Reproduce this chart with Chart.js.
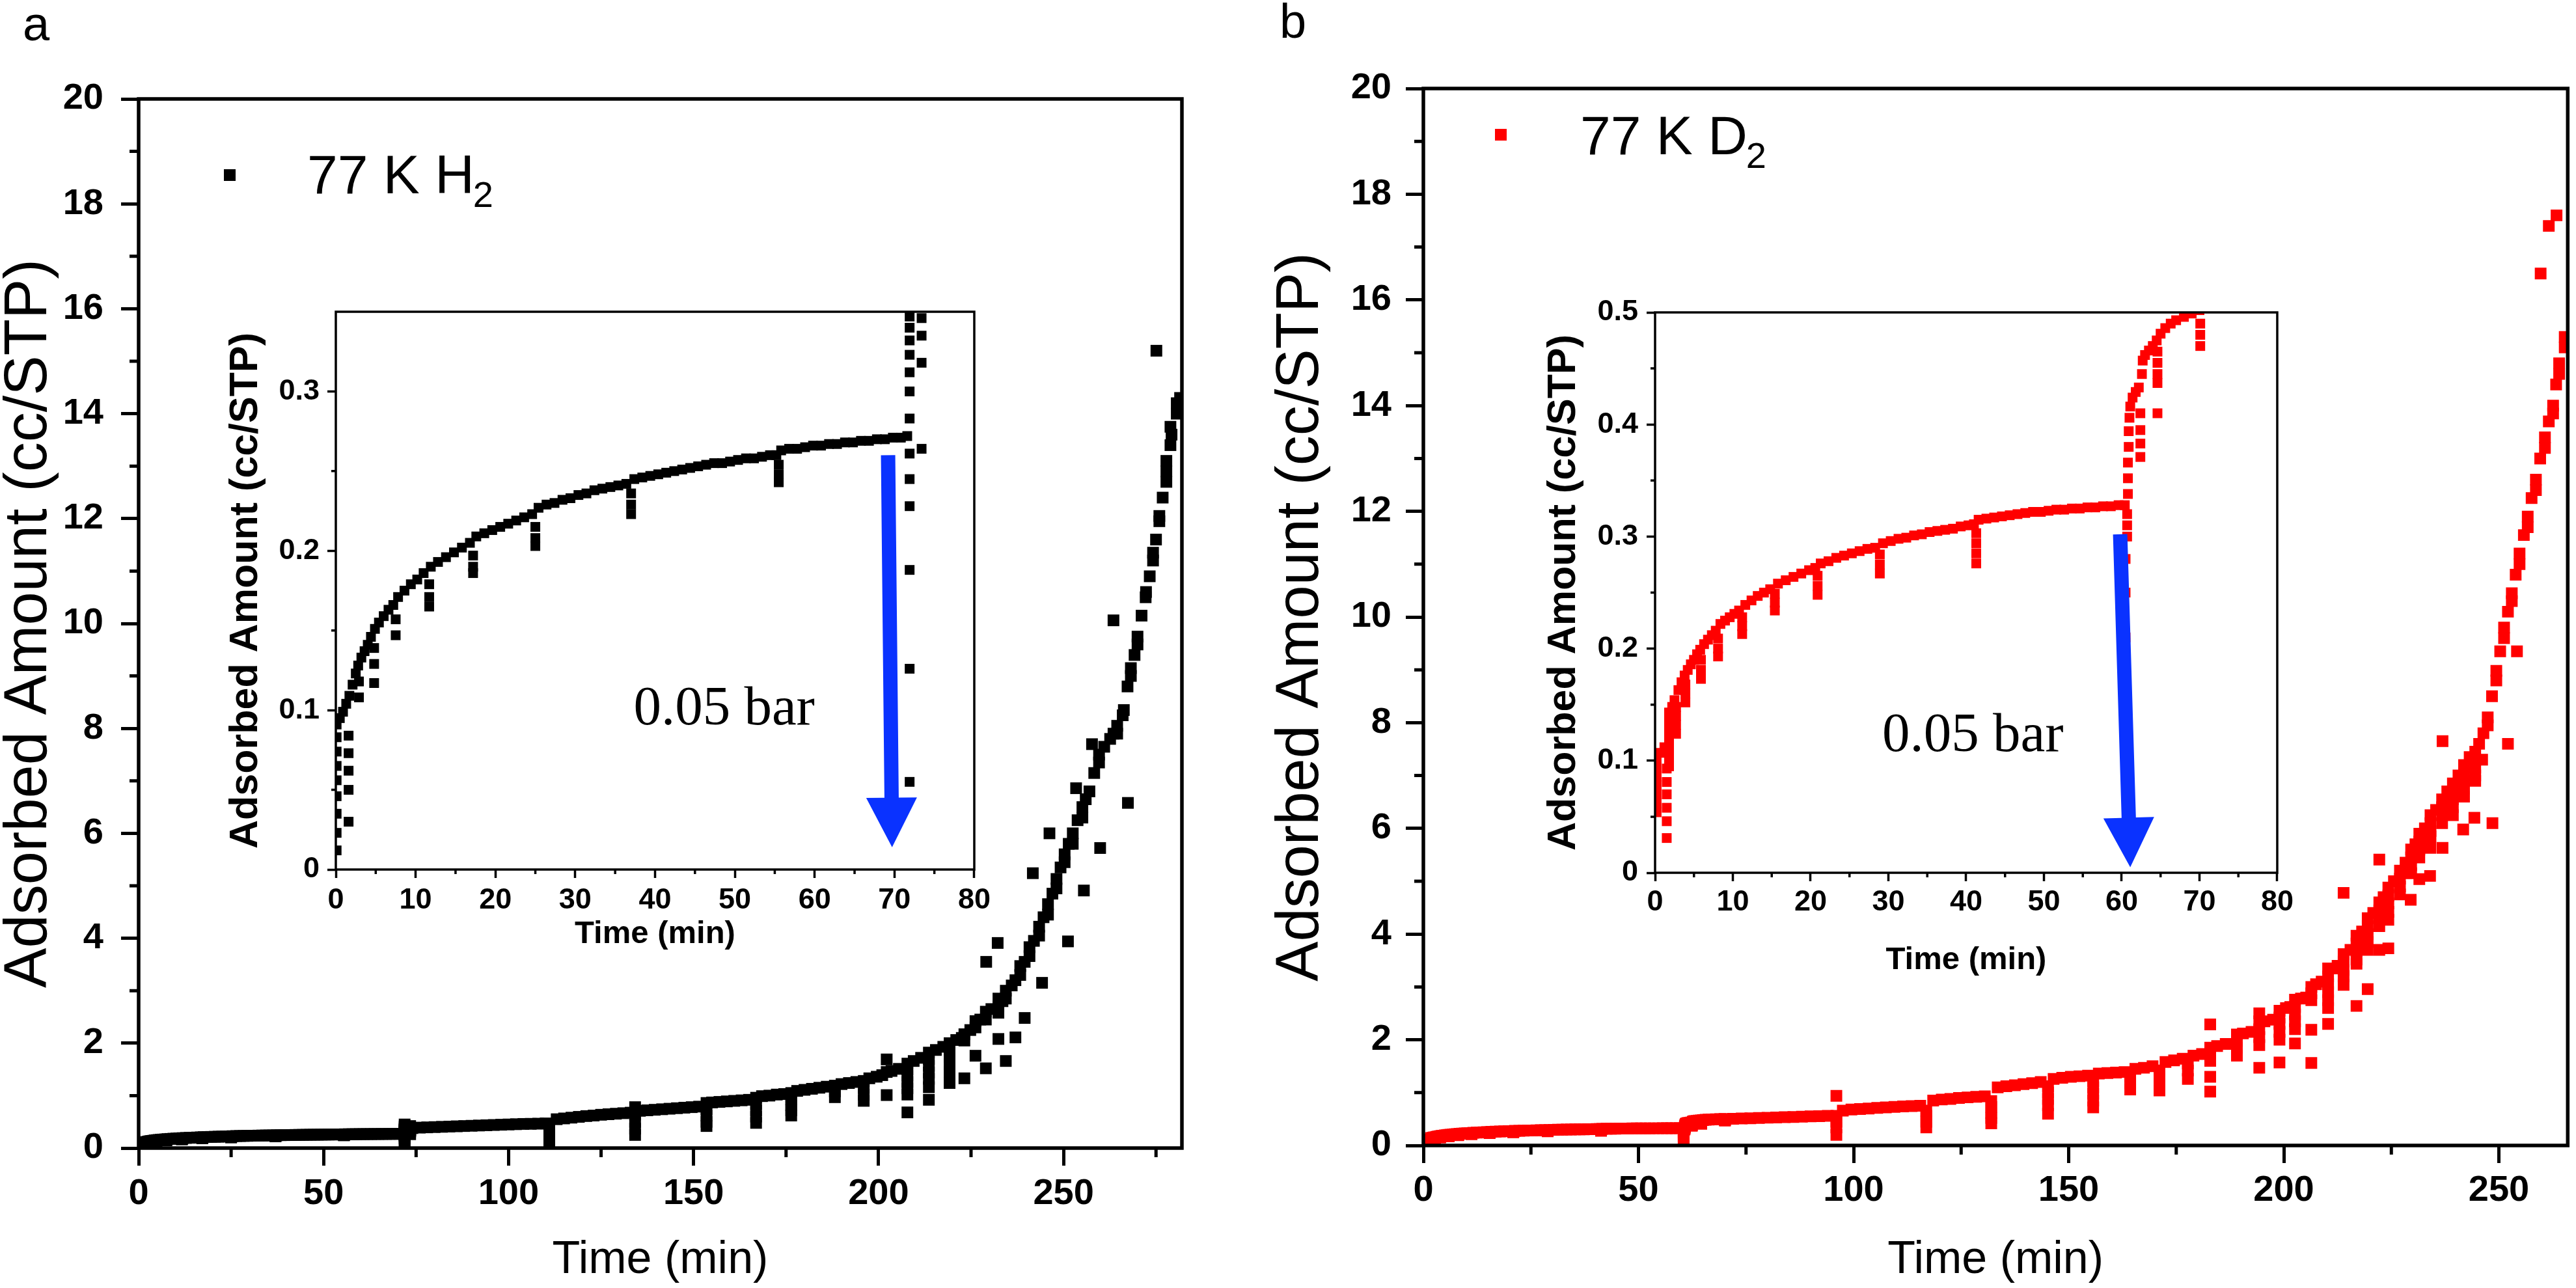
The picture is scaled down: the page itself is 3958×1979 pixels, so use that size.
<!DOCTYPE html>
<html>
<head>
<meta charset="utf-8">
<title>Adsorbed amount vs time, 77 K H2 and D2</title>
<script src="https://cdn.jsdelivr.net/npm/chart.js@4.4.1/dist/chart.umd.min.js"></script>
<style>
  html, body { margin: 0; padding: 0; background: #ffffff; }
  #page { position: relative; width: 3958px; height: 1979px; overflow: hidden; background: #ffffff; }
  #page canvas { position: absolute; }
</style>
</head>
<body>
<div id="page">
  <canvas id="mainA" width="1830" height="1979" style="left:0px;top:0px;width:1830px;height:1979px"></canvas>
  <canvas id="mainB" width="2018" height="1979" style="left:1940px;top:0px;width:2018px;height:1979px"></canvas>
  <canvas id="insetA" width="1200" height="1025" style="left:330px;top:440px;width:1200px;height:1025px"></canvas>
  <canvas id="insetB" width="1200" height="1080" style="left:2330px;top:440px;width:1200px;height:1080px"></canvas>
</div>
<script>
// ---- data: [time (min), adsorbed amount (cc/STP)] ----

// 77 K H2, first 74 min (this is what the inset of panel a shows)
const earlyA = [
  [0.1,0.012],[0.1,0.023],[0.1,0.035],[0.1,0.046],[0.1,0.056],[0.1,0.065],[0.1,0.074],[0.1,0.083],[0.1,0.091],
  [0.5,0.095],[0.9,0.099],[1.3,0.104],
  [1.6,0.03],[1.6,0.05],[1.6,0.062],[1.6,0.073],[1.6,0.084],
  [1.7,0.109],[2.1,0.116],[2.5,0.123],[2.8,0.128],
  [2.9,0.118],[2.9,0.108],
  [3.2,0.133],[3.6,0.137],[4.0,0.141],[4.4,0.146],
  [4.8,0.139],[4.8,0.129],[4.8,0.117],
  [4.9,0.151],[5.4,0.155],[6.0,0.159],[6.6,0.163],[7.2,0.166],
  [7.5,0.157],[7.5,0.147],
  [7.8,0.171],[8.6,0.175],[9.4,0.179],[10.2,0.182],[11.0,0.186],
  [11.7,0.179],[11.7,0.171],[11.7,0.165],
  [11.9,0.19],[12.8,0.193],[13.8,0.196],[14.8,0.199],[15.8,0.202],[16.8,0.205],
  [17.2,0.197],[17.2,0.19],[17.2,0.186],
  [17.6,0.209],[18.6,0.211],[19.6,0.213],[20.6,0.215],[21.6,0.217],[22.6,0.219],[23.6,0.221],[24.6,0.223],
  [25.0,0.215],[25.0,0.208],[25.0,0.203],
  [25.4,0.227],[26.4,0.229],[27.4,0.23],[28.4,0.232],[29.4,0.233],[30.4,0.235],[31.4,0.236],[32.4,0.238],
  [33.4,0.239],[34.4,0.24],[35.4,0.241],[36.4,0.242],
  [37.0,0.236],[37.0,0.229],[37.0,0.223],
  [37.4,0.245],[38.4,0.246],[39.4,0.247],[40.4,0.248],[41.4,0.249],[42.4,0.25],[43.4,0.251],[44.4,0.252],
  [45.4,0.253],[46.4,0.254],[47.4,0.255],[48.4,0.255],[49.4,0.256],[50.4,0.257],[51.4,0.258],[52.4,0.258],
  [53.4,0.259],[54.4,0.26],[55.2,0.26],
  [55.5,0.254],[55.5,0.248],[55.5,0.243],
  [55.8,0.263],[56.8,0.264],[57.8,0.264],[58.8,0.265],[59.8,0.266],[60.8,0.266],[61.8,0.267],[62.8,0.267],
  [63.8,0.268],[64.8,0.268],[65.8,0.269],[66.8,0.269],[67.8,0.27],[68.8,0.27],[69.8,0.271],[70.8,0.271],[71.6,0.272],
  [71.9,0.055],[71.9,0.126],[71.9,0.188],[71.9,0.228],[71.9,0.245],[71.9,0.261],[71.9,0.283],[71.9,0.3],
  [71.9,0.312],[71.9,0.323],[71.9,0.332],[71.9,0.34],[71.9,0.347],[71.9,0.36],[71.9,0.38],[71.9,0.41],[71.9,0.45],
  [73.4,0.264],[73.4,0.318],[73.4,0.335],[73.4,0.346],[73.4,0.37],[73.4,0.42]
];

// 77 K H2, rest of the run
const lateA = [
  [74,0.38],[76,0.39],[78,0.395],[80,0.4],[82,0.405],[84,0.41],[86,0.415],[88,0.42],[90,0.425],[92,0.43],
  [94,0.435],[96,0.44],[98,0.445],[100,0.45],[102,0.455],[104,0.46],[106,0.462],[108,0.465],[110,0.47],
  [111,0.38],[111,0.27],[111,0.16],[111,0.06],
  [113,0.55],[115,0.565],[117,0.58],[119,0.595],[121,0.61],[123,0.62],[125,0.635],[127,0.645],[129,0.655],[131,0.665],[133,0.675],
  [134.2,0.78],[134.2,0.64],[134.2,0.5],[134.2,0.37],[134.2,0.25],
  [135.5,0.71],[137.5,0.72],[139.5,0.73],[141.5,0.74],[143.5,0.75],[145.5,0.76],[147.5,0.77],[149.5,0.78],[151.5,0.79],
  [153.5,0.86],[153.5,0.74],[153.5,0.62],[153.5,0.5],[153.5,0.42],
  [155,0.87],[157,0.88],[159,0.89],[161,0.9],[163,0.91],[165,0.92],
  [166.9,0.96],[166.9,0.84],[166.9,0.72],[166.9,0.6],[166.9,0.48],
  [168.5,0.99],[170.5,1.0],[172.5,1.02],[174.5,1.03],
  [176.4,1.05],[176.4,0.93],[176.4,0.82],[176.4,0.72],[176.4,0.62],
  [178,1.09],[180,1.11],[182,1.13],[184,1.15],[186,1.17],
  [188.2,1.19],[188.2,1.08],[188.2,0.97],
  [190,1.22],[192,1.24],[194,1.26],
  [196,1.28],[196,1.15],[196,1.02],[196,0.9],
  [197.5,1.33],[199.5,1.36],[201,1.39],[202.2,1.45],[203.5,1.47],[205.5,1.51],
  [207.8,1.61],[207.8,1.5],[207.8,1.38],[207.8,1.26],[207.8,1.14],[207.8,1.02],
  [209.5,1.66],[211.5,1.72],
  [213.6,1.82],[213.6,1.7],[213.6,1.57],[213.6,1.44],[213.6,1.32],[213.6,1.16],
  [215.5,1.87],[217.5,1.93],
  [219.2,2.0],[219.2,1.87],[219.2,1.74],[219.2,1.6],[219.2,1.45],
  [221,2.06],[222.5,2.1],[223.2,2.17],[223.2,2.05],[224.8,2.25],[226.2,2.42],[226.2,2.3],[227.5,2.45],
  [229,2.6],[229,2.45],[230.5,2.65],[232.4,2.85],[232.4,2.7],[232.4,2.58],[233.5,2.8],[234.4,3.0],[234.4,2.85],
  [236,3.1],[237,3.2],[238.3,3.47],[238.3,3.3],[239.5,3.55],[240.8,3.83],[240.8,3.66],[242,3.95],
  [243.4,4.22],[243.4,4.05],[244.6,4.4],[245.8,4.65],[245.8,4.45],[247,4.85],[248.1,5.13],[248.1,4.95],
  [249.2,5.35],[250.3,5.6],[250.3,5.45],[251.4,5.8],[252.5,6.0],[252.5,5.8],[253.8,6.25],[255.1,6.5],[255.1,6.3],
  [256,6.65],[257,6.8],[258.3,7.15],[259.6,7.5],[259.6,7.35],[261,7.65],[262.6,7.8],[263.5,7.9],[264.5,7.9],[264.5,8.05],
  [266,8.25],[266.3,8.35],[267.3,8.8],[268.2,9.0],[268.2,9.15],[269.2,9.4],[270,9.75],[270,9.6],[271.1,10.15],
  [272.2,10.5],[272.3,10.6],[273.3,10.9],[274.2,11.2],[274.2,11.35],[275,11.6],[275.9,11.95],[275.9,12.05],
  [276.8,12.4],[277.8,12.7],[277.8,12.9],[277.8,13.1],[278.9,13.4],[279.2,13.6],[278.9,13.75],[280.6,14.0],[280.6,14.2],[281.5,14.3]
];

// 77 K H2, stray points away from the main band
const strayA = [
  [202.2,1.69],[202.2,1.01],[207.8,0.68],[213.6,0.92],[219.2,1.24],[223.2,1.33],[226.2,1.76],[229,1.52],
  [232.4,2.08],[234.4,1.66],[237,2.11],[239.5,2.48],[244.2,3.15],[232.2,3.91],[229.1,3.55],[241.7,5.24],
  [246.2,6.0],[251.2,3.94],[253.4,6.86],[255.5,4.91],[257.7,7.7],[259.9,5.72],[263.5,10.06],[267.4,6.58],[275.1,15.2]
];

// 77 K D2, first 70 min (inset of panel b)
const earlyB = [
  [0.2,0.054],[0.2,0.062],[0.2,0.07],[0.2,0.078],[0.2,0.086],[0.2,0.094],[0.2,0.102],
  [0.7,0.107],[1.2,0.112],
  [1.5,0.031],[1.5,0.046],[1.5,0.058],[1.5,0.07],[1.5,0.081],[1.5,0.093],
  [1.8,0.143],[1.8,0.135],[1.8,0.127],[1.8,0.119],[1.8,0.111],[1.8,0.103],[1.8,0.095],
  [2.2,0.148],[2.5,0.154],
  [2.7,0.148],[2.7,0.14],[2.7,0.132],[2.7,0.124],
  [3.0,0.163],[3.4,0.17],[3.8,0.176],
  [3.9,0.168],[3.9,0.16],[3.9,0.152],
  [4.2,0.181],[4.6,0.186],[5.0,0.19],[5.4,0.195],[5.8,0.199],
  [5.9,0.19],[5.9,0.181],[5.9,0.173],
  [6.3,0.204],[6.8,0.208],[7.3,0.212],[7.8,0.216],
  [8.1,0.209],[8.1,0.2],[8.1,0.193],
  [8.4,0.222],[9.0,0.225],[9.6,0.228],[10.2,0.231],[10.8,0.234],
  [11.2,0.228],[11.2,0.22],[11.2,0.213],
  [11.6,0.239],[12.4,0.243],[13.2,0.247],[14.0,0.25],[14.8,0.253],
  [15.4,0.249],[15.4,0.241],[15.4,0.234],
  [15.8,0.258],[16.8,0.261],[17.8,0.264],[18.8,0.267],[19.8,0.27],[20.6,0.272],
  [20.9,0.265],[20.9,0.256],[20.9,0.248],
  [21.3,0.276],[22.3,0.278],[23.3,0.281],[24.3,0.283],[25.3,0.285],[26.3,0.287],[27.3,0.289],[28.3,0.29],
  [28.9,0.284],[28.9,0.275],[28.9,0.267],
  [29.3,0.294],[30.3,0.296],[31.3,0.298],[32.3,0.299],[33.3,0.301],[34.3,0.302],[35.3,0.304],[36.3,0.305],
  [37.3,0.306],[38.3,0.307],[39.3,0.309],[40.3,0.31],[41.0,0.311],
  [41.3,0.303],[41.3,0.294],[41.3,0.285],[41.3,0.276],
  [41.6,0.315],[42.6,0.316],[43.6,0.317],[44.6,0.318],[45.6,0.319],[46.6,0.32],[47.6,0.321],[48.6,0.322],
  [49.6,0.322],[50.6,0.323],[51.6,0.324],[52.6,0.324],[53.6,0.325],[54.6,0.325],[55.6,0.326],[56.6,0.326],
  [57.6,0.327],[58.6,0.327],[59.6,0.328],[60.4,0.328],
  [60.5,0.09],[60.5,0.13],[60.5,0.17],[60.5,0.21],[60.5,0.25],[60.5,0.28],
  [60.7,0.3],[60.7,0.31],[60.7,0.32],[60.8,0.338],[60.8,0.352],[60.8,0.366],[60.9,0.38],[60.9,0.394],[61.0,0.406],[61.1,0.416],
  [61.4,0.424],[61.8,0.429],[62.2,0.433],
  [62.4,0.41],[62.4,0.395],[62.4,0.383],[62.4,0.371],
  [62.6,0.445],[62.7,0.457],[63.0,0.462],[63.5,0.466],[64.0,0.47],[64.5,0.475],
  [64.6,0.465],[64.6,0.455],[64.6,0.445],[64.6,0.437],[64.6,0.41],
  [65.0,0.481],[65.6,0.486],[66.3,0.49],[67.0,0.493],[68.0,0.496],[69.0,0.499],[70.0,0.502],
  [70.1,0.49],[70.1,0.48],[70.1,0.47]
];

// 77 K D2, rest of the run
const lateB = [
  [72,0.505],[74,0.51],[76,0.515],[78,0.52],[80,0.525],[82,0.53],[84,0.535],[86,0.54],[88,0.545],[90,0.55],[92,0.555],[94,0.56],
  [96,0.56],[96,0.45],[96,0.34],[96,0.2],
  [97.5,0.66],[99.5,0.68],[101.5,0.69],[103.5,0.7],[105.5,0.71],[107.5,0.72],[109.5,0.73],[111.5,0.74],[113.5,0.745],[115.5,0.75],
  [116.9,0.66],[116.9,0.56],[116.9,0.45],[116.9,0.34],
  [118.5,0.85],[120.5,0.87],[122.5,0.88],[124.5,0.9],[126.5,0.91],[128.5,0.92],[130.5,0.93],
  [132,0.84],[132,0.73],[132,0.62],[132,0.52],[132,0.42],
  [133.5,1.1],[135.5,1.12],[137.5,1.14],[139.5,1.16],[141.5,1.18],[143.5,1.2],
  [145.2,1.12],[145.2,1.0],[145.2,0.88],[145.2,0.76],[145.2,0.6],
  [146.5,1.26],[148.5,1.28],[150.5,1.3],[152.5,1.31],[154.5,1.32],
  [155.7,1.22],[155.7,1.1],[155.7,0.98],[155.7,0.85],[155.7,0.72],
  [157,1.36],[159,1.37],[161,1.38],[163,1.39],
  [164.3,1.3],[164.3,1.18],[164.3,1.06],
  [165.5,1.45],[167.5,1.47],[169.5,1.5],
  [171.1,1.42],[171.1,1.3],[171.1,1.17],[171.1,1.04],
  [172.5,1.58],[174.5,1.61],[176.5,1.64],
  [177.7,1.55],[177.7,1.42],[177.7,1.26],
  [179,1.7],[181,1.73],
  [182.9,1.85],[182.9,1.75],[182.9,1.6],
  [184.5,1.88],[186.5,1.92],
  [189.1,2.1],[189.1,1.98],[189.1,1.85],[189.1,1.7],
  [190.5,2.12],[192.5,2.15],
  [194.3,2.5],[194.3,2.35],[194.3,2.2],[194.3,2.05],[194.3,1.9],
  [195.5,2.35],[197.5,2.38],
  [199,2.55],[199,2.42],[199,2.3],[199,2.15],[199,2.0],
  [200.5,2.6],[201.5,2.62],
  [202.6,2.76],[202.6,2.62],[202.6,2.48],[202.6,2.35],[202.6,2.2],
  [204,2.78],[205.2,2.8],
  [206.4,3.0],[206.4,2.88],[206.4,2.75],
  [207.5,3.05],[208.8,3.1],
  [210.3,3.35],[210.3,3.2],[210.3,3.05],[210.3,2.9],[210.3,2.75],[210.3,2.6],
  [211.5,3.35],[212.5,3.4],
  [213.9,3.62],[213.9,3.48],[213.9,3.32],[213.9,3.2],
  [215.5,3.7],
  [216.9,3.97],[216.9,3.82],[216.9,3.67],[216.9,3.52],
  [218.2,4.05],
  [219.5,4.3],[219.5,4.15],[219.5,4.0],[219.5,3.85],
  [220.8,4.4],
  [222.2,4.6],[222.2,4.45],[222.2,4.3],[222.2,4.15],
  [223.2,4.7],
  [224.3,4.88],[224.3,4.73],[224.3,4.58],[224.3,4.42],
  [225.6,5.0],
  [227,5.2],[227,5.05],[227,4.9],[227,4.75],
  [228.3,5.35],
  [229.6,5.6],[229.6,5.45],[229.6,5.3],[229.6,5.15],
  [230.6,5.7],
  [231.5,5.9],[231.5,5.75],[231.5,5.6],[231.5,5.45],
  [232.8,6.0],
  [234.1,6.25],[234.1,6.1],[234.1,5.95],[234.1,5.85],
  [235.4,6.35],
  [236.8,6.55],[236.8,6.4],[236.8,6.25],[236.8,6.1],
  [238,6.7],
  [239.3,6.85],[239.3,6.7],[239.3,6.55],[239.3,6.4],[239.3,6.25],
  [240.6,7.0],
  [241.9,7.2],[241.9,7.05],[241.9,6.9],[241.9,6.75],[241.9,6.6],
  [243.2,7.35],
  [244.5,7.45],[244.5,7.3],[244.5,7.15],[244.5,7.0],
  [245.4,7.6],[246.4,7.8],[247.4,8.1],[247.4,7.95],[248.4,8.5],[249.4,8.98],[249.4,8.8],[250.3,9.35],
  [251.2,9.8],[251.2,9.6],[252.1,10.1],[253,10.45],[253,10.3],[253.9,10.8],[254.8,11.2],[254.8,11.0],
  [255.8,11.55],[256.7,11.9],[256.7,11.7],[257.6,12.25],[258.6,12.6],[258.6,12.4],[259.6,13.0],
  [260.7,13.4],[260.7,13.2],[261.6,13.7],[262.6,14.0],[262.6,13.85],[263.3,14.4],[264,14.8],[264,14.6],
  [265.3,15.3],[265.3,15.1]
];

// 77 K D2, stray points
const strayB = [
  [96,0.94],[182.9,1.3],[182.9,1.02],[182.9,2.29],[194.3,1.47],[199,1.57],[202.6,1.93],[206.4,2.19],[206.4,1.56],
  [210.3,2.3],[213.9,3.04],[213.9,4.78],[216.9,3.44],[216.9,2.64],[219.5,3.7],[219.5,2.96],[222.2,3.7],[222.2,5.41],
  [224.3,4.27],[224.3,3.73],[229.5,4.65],[231.5,5.04],[234,5.1],[234.1,5.63],[236.9,5.63],[236.9,7.65],
  [241.7,5.98],[244.3,6.2],[244.5,6.9],[246.1,7.3],[248.5,6.1],[252.1,7.6],[254.2,9.35],
  [259.7,16.5],[261.6,17.4],[263.4,17.6]
];

// axes
const mainYTicks = [0, 2, 4, 6, 8, 10, 12, 14, 16, 18, 20];
const mainYMinor = [1, 3, 5, 7, 9, 11, 13, 15, 17, 19];
const mainXTicks = [0, 50, 100, 150, 200, 250];
const mainXMinorA = [25, 75, 125, 175, 225, 275];
const mainXMinorB = [25, 75, 125, 175, 225];
const insetXTicks = [0, 10, 20, 30, 40, 50, 60, 70, 80];
const insetXMinor = [5, 15, 25, 35, 45, 55, 65, 75];
const insetYTicksA = [0, 0.1, 0.2, 0.3];
const insetYMinorA = [0.05, 0.15, 0.25];
const insetYTicksB = [0, 0.1, 0.2, 0.3, 0.4, 0.5];
const insetYMinorB = [0.05, 0.15, 0.25, 0.35, 0.45];

// pressure-drop arrows in the insets: [time, amount] tail and tip
const arrowA = [[69.2, 0.26], [69.7, 0.014]];
const arrowB = [[59.8, 0.302], [61.1, 0.005]];

const SANS = '"Liberation Sans", Arial, sans-serif';
const SERIF = '"Liberation Serif", "Times New Roman", serif';
const BLUE = '#0a32ff';

Chart.defaults.font.family = SANS;
Chart.defaults.color = '#000';

const toXY = rows => rows.map(([x, y]) => ({ x: x, y: y }));

// box around the plot area plus minor ticks (Chart.js has no minor ticks)
function framePlugin(o) {
  return {
    id: 'frame',
    afterDatasetsDraw(chart) {
      const { ctx, chartArea: a, scales } = chart;
      ctx.save();
      ctx.strokeStyle = '#000';
      ctx.lineWidth = o.width;
      ctx.strokeRect(a.left, a.top, a.right - a.left, a.bottom - a.top);
      ctx.lineWidth = o.tickWidth;
      ctx.beginPath();
      o.minorX.forEach(v => {
        const px = scales.x.getPixelForValue(v);
        ctx.moveTo(px, a.bottom);
        ctx.lineTo(px, a.bottom + o.minorLen);
      });
      o.minorY.forEach(v => {
        const py = scales.y.getPixelForValue(v);
        ctx.moveTo(a.left, py);
        ctx.lineTo(a.left - o.minorLen, py);
      });
      ctx.stroke();
      ctx.restore();
    }
  };
}

// legend entry with subscript, plus the panel letter
function keyPlugin(k) {
  return {
    id: 'sampleKey',
    afterDraw(chart) {
      const ctx = chart.ctx;
      ctx.save();
      ctx.fillStyle = k.color;
      ctx.fillRect(k.marker[0] - 9, k.marker[1] - 9, 18, 18);
      ctx.fillStyle = '#000';
      ctx.textBaseline = 'alphabetic';
      ctx.textAlign = 'left';
      ctx.font = '84px ' + SANS;
      ctx.fillText(k.text, k.textX, k.baseline);
      const w = ctx.measureText(k.text).width;
      ctx.font = '56px ' + SANS;
      ctx.fillText(k.sub, k.textX + w - 2, k.baseline + 21);
      ctx.font = '74px ' + SANS;
      ctx.fillText(k.letter, k.letterAt[0], k.letterAt[1]);
      ctx.restore();
    }
  };
}

// blue arrow and "0.05 bar" note, placed with the inset's own scales
function arrowPlugin(arrow, noteAt) {
  return {
    id: 'pressureArrow',
    afterDatasetsDraw(chart) {
      const { ctx, scales: { x, y } } = chart;
      const x0 = x.getPixelForValue(arrow[0][0]), y0 = y.getPixelForValue(arrow[0][1]);
      const x1 = x.getPixelForValue(arrow[1][0]), y1 = y.getPixelForValue(arrow[1][1]);
      const len = Math.hypot(x1 - x0, y1 - y0);
      const shaft = 22, headW = 78, headL = 76;
      ctx.save();
      ctx.translate(x0, y0);
      ctx.rotate(Math.atan2(y1 - y0, x1 - x0));
      ctx.fillStyle = BLUE;
      ctx.beginPath();
      ctx.moveTo(0, -shaft / 2);
      ctx.lineTo(len - headL, -shaft / 2);
      ctx.lineTo(len - headL, -headW / 2);
      ctx.lineTo(len, 0);
      ctx.lineTo(len - headL, headW / 2);
      ctx.lineTo(len - headL, shaft / 2);
      ctx.lineTo(0, shaft / 2);
      ctx.closePath();
      ctx.fill();
      ctx.restore();

      ctx.save();
      ctx.fillStyle = '#000';
      ctx.font = '85px ' + SERIF;
      ctx.textBaseline = 'alphabetic';
      ctx.textAlign = 'left';
      ctx.fillText('0.05 bar', x.getPixelForValue(noteAt[0]), y.getPixelForValue(noteAt[1]));
      ctx.restore();
    }
  };
}

function buildMain(id, rows, o) {
  return new Chart(document.getElementById(id), {
    type: 'scatter',
    data: {
      datasets: [{
        data: toXY(rows),
        pointStyle: 'rect',
        pointRadius: 12.7,
        backgroundColor: o.color,
        pointBackgroundColor: o.color,
        pointBorderWidth: 0,
        clip: 0
      }]
    },
    options: {
      responsive: false,
      animation: false,
      events: [],
      devicePixelRatio: 1,
      layout: { padding: { top: o.top, right: o.right, left: 0, bottom: 0 } },
      plugins: { legend: { display: false }, tooltip: { enabled: false } },
      scales: {
        x: {
          type: 'linear', min: 0, max: o.xMax,
          afterBuildTicks: s => { s.ticks = mainXTicks.map(v => ({ value: v })); },
          afterFit: s => { s.height = o.xAxisHeight; },
          border: { display: false },
          grid: { drawOnChartArea: false, drawTicks: true, tickLength: 27, tickWidth: 5, tickColor: '#000' },
          ticks: { font: { size: 56, weight: 'bold' }, color: '#000', padding: o.xPad, maxRotation: 0, autoSkip: false },
          title: { display: true, text: 'Time (min)', color: '#000',
                   font: { size: 70, weight: 'normal', lineHeight: 1.2 }, padding: { top: 0, bottom: 0 } }
        },
        y: {
          type: 'linear', min: 0, max: 20,
          afterBuildTicks: s => { s.ticks = mainYTicks.map(v => ({ value: v })); },
          afterFit: s => { s.width = o.yAxisWidth; },
          border: { display: false },
          grid: { drawOnChartArea: false, drawTicks: true, tickLength: 27, tickWidth: 5, tickColor: '#000' },
          ticks: { font: { size: 56, weight: 'bold' }, color: '#000', padding: o.yPad, autoSkip: false },
          title: { display: true, text: 'Adsorbed Amount (cc/STP)', color: '#000',
                   font: { size: 92, weight: 'normal', lineHeight: 1 }, padding: { top: o.yTitlePad, bottom: 0 } }
        }
      }
    },
    plugins: [
      framePlugin({ width: 5.5, tickWidth: 5, minorLen: 14, minorX: o.minorX, minorY: mainYMinor }),
      keyPlugin(o.key)
    ]
  });
}

function buildInset(id, rows, o) {
  return new Chart(document.getElementById(id), {
    type: 'scatter',
    data: {
      datasets: [{
        data: toXY(rows),
        pointStyle: 'rect',
        pointRadius: 10.6,
        backgroundColor: o.color,
        pointBackgroundColor: o.color,
        pointBorderWidth: 0,
        clip: 0
      }]
    },
    options: {
      responsive: false,
      animation: false,
      events: [],
      devicePixelRatio: 1,
      layout: { padding: { top: o.top, right: o.right, left: 0, bottom: 0 } },
      plugins: { legend: { display: false }, tooltip: { enabled: false } },
      scales: {
        x: {
          type: 'linear', min: 0, max: 80,
          afterBuildTicks: s => { s.ticks = insetXTicks.map(v => ({ value: v })); },
          afterFit: s => { s.height = o.xAxisHeight; },
          border: { display: false },
          grid: { drawOnChartArea: false, drawTicks: true, tickLength: 13, tickWidth: 3.5, tickColor: '#000' },
          ticks: { font: { size: 45, weight: 'bold' }, color: '#000', padding: o.xPad, maxRotation: 0, autoSkip: false },
          title: { display: true, text: 'Time (min)', color: '#000',
                   font: { size: 49, weight: 'bold', lineHeight: 1.2 }, padding: { top: 0, bottom: o.xTitlePad } }
        },
        y: {
          type: 'linear', min: 0, max: o.yMax,
          afterBuildTicks: s => { s.ticks = o.yTicks.map(v => ({ value: v })); },
          afterFit: s => { s.width = o.yAxisWidth; },
          border: { display: false },
          grid: { drawOnChartArea: false, drawTicks: true, tickLength: 13, tickWidth: 3.5, tickColor: '#000' },
          ticks: { font: { size: 45, weight: 'bold' }, color: '#000', padding: o.yPad, autoSkip: false },
          title: { display: true, text: 'Adsorbed Amount (cc/STP)', color: '#000',
                   font: { size: 61, weight: 'bold', lineHeight: 1 }, padding: { top: o.yTitlePad, bottom: 0 } }
        }
      }
    },
    plugins: [
      framePlugin({ width: 3.5, tickWidth: 3.5, minorLen: 7, minorX: insetXMinor, minorY: o.yMinor }),
      arrowPlugin(o.arrow, o.noteAt)
    ]
  });
}

const rowsA = [...earlyA, ...lateA, ...strayA];
const rowsB = [...earlyB, ...lateB, ...strayB];

buildMain('mainA', rowsA, {
  color: '#000000', xMax: 282, minorX: mainXMinorA,
  top: 152, right: 14, yAxisWidth: 213, xAxisHeight: 215,
  xPad: 10, yPad: 27, yTitlePad: 0,
  key: { color: '#000000', marker: [353, 269], text: '77 K H', sub: '2', textX: 472, baseline: 297,
         letter: 'a', letterAt: [35, 62] }
});

buildMain('mainB', rowsB, {
  color: '#ff0000', xMax: 266, minorX: mainXMinorB,
  top: 136, right: 4, yAxisWidth: 247, xAxisHeight: 219,
  xPad: 9, yPad: 22, yTitlePad: 14,
  key: { color: '#ff0000', marker: [366, 207], text: '77 K D', sub: '2', textX: 488, baseline: 237,
         letter: 'b', letterAt: [26, 58] }
});

buildInset('insetA', rowsA, {
  color: '#000000', yMax: 0.35, yTicks: insetYTicksA, yMinor: insetYMinorA,
  top: 38, right: 28, yAxisWidth: 186, xAxisHeight: 129,
  xPad: 8, yPad: 12, yTitlePad: 18, xTitlePad: 0,
  arrow: arrowA, noteAt: [37.3, 0.091]
});

buildInset('insetB', rowsB, {
  color: '#ff0000', yMax: 0.5, yTicks: insetYTicksB, yMinor: insetYMinorB,
  top: 35, right: 29, yAxisWidth: 213, xAxisHeight: 179,
  xPad: 6, yPad: 13, yTitlePad: 43, xTitlePad: 15,
  arrow: arrowB, noteAt: [29.2, 0.1085]
});
</script>
</body>
</html>
